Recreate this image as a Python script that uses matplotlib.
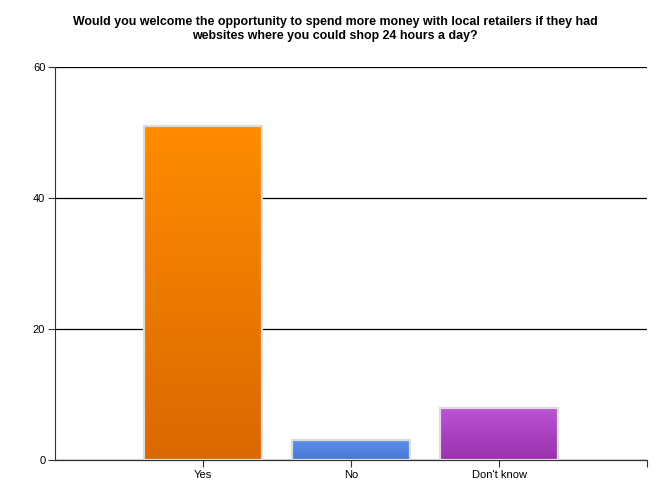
import numpy as np
import matplotlib
matplotlib.use('Agg')
import matplotlib.pyplot as plt
from matplotlib.colors import LinearSegmentedColormap

plt.rcParams['font.family'] = ['Liberation Sans', 'DejaVu Sans']

# data
categories = ['Yes', 'No', "Don't know"]
counts = [51, 3, 8]
top_colors = ['#ff8c00', '#5b90e8', '#bb56d6']
bottom_colors = ['#da6800', '#4a78d6', '#9a30ac']

fig = plt.figure(figsize=(6.71, 5.03), dpi=100)
ax = fig.add_axes([55 / 671, 43 / 503, 592 / 671, 393 / 503])

x = np.arange(1, len(categories) + 1)
bars = ax.bar(x, counts, width=0.8, color='none', edgecolor='#dcdcdc', linewidth=1.6, zorder=3)

# gradient fill for each bar
for b, c1, c2 in zip(bars, top_colors, bottom_colors):
    cmap = LinearSegmentedColormap.from_list('g', [c2, c1])
    x0, y0 = b.get_x(), b.get_y()
    w, h = b.get_width(), b.get_height()
    grad = np.linspace(0, 1, 256).reshape(-1, 1)
    im = ax.imshow(grad, cmap=cmap, aspect='auto', origin='lower',
                   extent=[x0, x0 + w, y0, y0 + h], zorder=2)
    im.set_clip_path(b)

ax.set_xlim(0, 4)
ax.set_ylim(0, 60)
ax.set_yticks([0, 20, 40, 60])
ax.set_xticks(x)
ax.set_xticklabels(categories)
ax.set_xticks([4], minor=True)
ax.tick_params(axis='both', labelsize=8, length=5, width=0.8, color='#333333', pad=2)
ax.tick_params(axis='x', which='minor', length=5, width=0.8, color='#333333')

ax.grid(axis='y', color='black', linewidth=0.9, zorder=1)
ax.set_axisbelow(True)
for s in ['top', 'right']:
    ax.spines[s].set_visible(False)
ax.spines['left'].set_color('#333333')
ax.spines['bottom'].set_color('#333333')
ax.spines['left'].set_linewidth(0.8)
ax.spines['bottom'].set_linewidth(0.9)

fig.text(335 / 671, 1 - 16 / 503, 'Would you welcome the opportunity to spend more money with local retailers if they had\n'
         'websites where you could shop 24 hours a day?',
         ha='center', va='top', fontsize=8.9, fontweight='bold', linespacing=1.25)

fig.savefig('out.png', dpi=100)
